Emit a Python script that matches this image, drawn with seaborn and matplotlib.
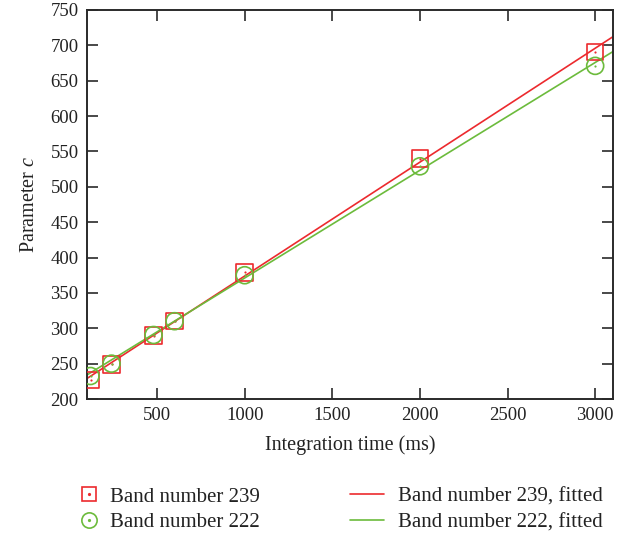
import numpy as np
import pandas as pd
import seaborn as sns
import matplotlib
matplotlib.use("Agg")
import matplotlib.pyplot as plt
from matplotlib.lines import Line2D

# ---- data ----
integration_time = [120, 240, 480, 600, 1000, 2000, 3000]
band239 = [227, 249, 289.5, 310, 379, 540, 691]
band222 = [232.5, 250, 290.5, 310, 375, 529, 671]
fit_x = [100, 3100]
fit239 = [229, 712]
fit222 = [234, 691]
series_labels = ["Band number 239", "Band number 222",
                 "Band number 239, fitted", "Band number 222, fitted"]
x_ticks = [500, 1000, 1500, 2000, 2500, 3000]
y_ticks = [200, 250, 300, 350, 400, 450, 500, 550, 600, 650, 700, 750]

RED = "#ec2a2e"
GREEN = "#6cbb3c"

sns.set_theme(style="ticks")
plt.rcParams["font.family"] = ["Liberation Serif", "DejaVu Serif"]
plt.rcParams["mathtext.fontset"] = "custom"
plt.rcParams["mathtext.rm"] = "Liberation Serif"
plt.rcParams["mathtext.it"] = "Liberation Serif:italic"

fig = plt.figure(figsize=(6.32, 5.37), dpi=100)
ax = fig.add_axes([87 / 632, 1 - 399 / 537, (612.7 - 87) / 632, (399 - 10) / 537])

df_pts = pd.DataFrame({"t": integration_time, "b239": band239, "b222": band222})
df_fit = pd.DataFrame({"t": fit_x, "f239": fit239, "f222": fit222})

sns.lineplot(data=df_fit, x="t", y="f239", ax=ax, color=RED, lw=1.2)
sns.lineplot(data=df_fit, x="t", y="f222", ax=ax, color=GREEN, lw=1.2)

sns.scatterplot(data=df_pts, x="t", y="b239", ax=ax, marker="s", s=140,
                facecolor="none", edgecolor=RED, linewidth=1.2, zorder=3)
sns.scatterplot(data=df_pts, x="t", y="b222", ax=ax, marker="o", s=150,
                facecolor="none", edgecolor=GREEN, linewidth=1.2, zorder=3)
sns.scatterplot(data=df_pts, x="t", y="b239", ax=ax, marker="o", s=2.5,
                color=RED, linewidth=0, zorder=4)
sns.scatterplot(data=df_pts, x="t", y="b222", ax=ax, marker="o", s=2.5,
                color=GREEN, linewidth=0, zorder=4)

ax.set_xlim(100, 3100)
ax.set_ylim(200, 750)
ax.set_xticks(x_ticks)
ax.set_yticks(y_ticks)
ax.tick_params(direction="in", length=8, width=1.2, colors="#2a2a2a",
               labelcolor="#222222", labelsize=13.5, top=True, right=True, pad=6)
for sp in ax.spines.values():
    sp.set_visible(True)
    sp.set_color("#2a2a2a")
    sp.set_linewidth(1.4)
ax.set_xlabel("Integration time (ms)", fontsize=14.5, color="#222222", labelpad=8)
ax.set_ylabel("Parameter $c$", fontsize=14.5, color="#222222", labelpad=8)

# legend below plot
h_sq = (Line2D([], [], ls="none", marker="s", ms=10.5, mfc="none", mec=RED, mew=1.2),
        Line2D([], [], ls="none", marker="o", ms=1.3, color=RED))
h_ci = (Line2D([], [], ls="none", marker="o", ms=11, mfc="none", mec=GREEN, mew=1.2),
        Line2D([], [], ls="none", marker="o", ms=1.3, color=GREEN))
h_r = Line2D([], [], color=RED, lw=1.2)
h_g = Line2D([], [], color=GREEN, lw=1.2)

LEG_FS = 15
leg1 = fig.legend([h_sq, h_ci], series_labels[:2], loc="upper left",
                  bbox_to_anchor=(80 / 632, 1 - 487 / 537), frameon=False,
                  fontsize=LEG_FS, handlelength=0.87, handletextpad=0.58,
                  labelspacing=0.3, borderpad=0, borderaxespad=0)
leg2 = fig.legend([h_r, h_g], series_labels[2:], loc="upper left",
                  bbox_to_anchor=(350 / 632, 1 - 487 / 537), frameon=False,
                  fontsize=LEG_FS, handlelength=1.63, handletextpad=0.67,
                  labelspacing=0.3, borderpad=0, borderaxespad=0)
for t in leg1.get_texts() + leg2.get_texts():
    t.set_color("#222222")

fig.savefig("out.png", dpi=100)
